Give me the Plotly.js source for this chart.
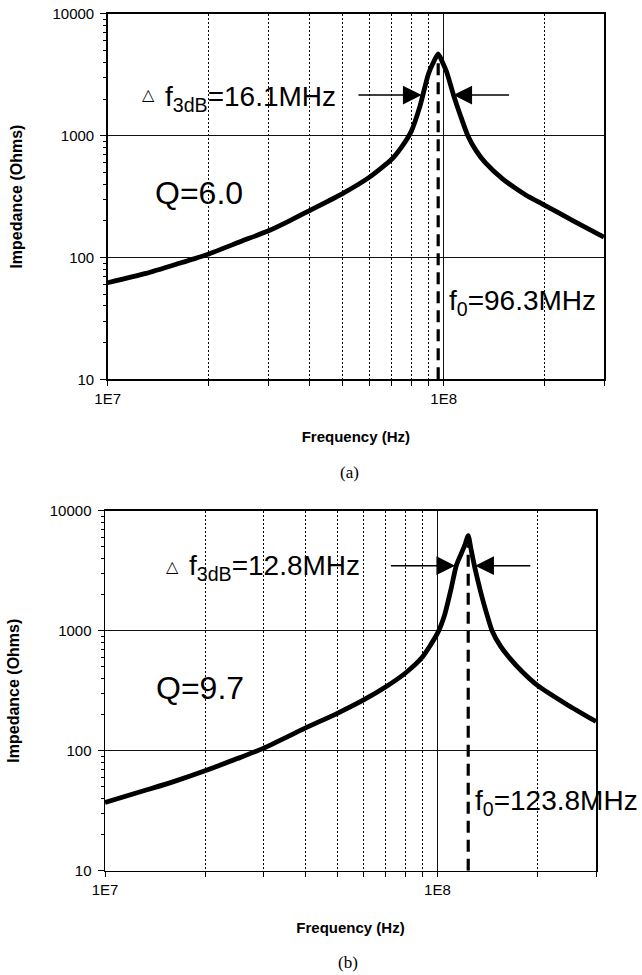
<!DOCTYPE html>
<html><head><meta charset="utf-8">
<script src="https://cdn.plot.ly/plotly-3.0.1.min.js"></script>
<style>html,body{margin:0;padding:0;background:#fff}</style>
</head><body>
<div id="chart" style="width:642px;height:975px"></div>
<script>
// ---- Data ----
const freqA = [1.0e7, 1.3e7, 1.6e7, 2.0e7, 2.5e7, 3.0e7, 3.5e7, 4.0e7, 5.0e7, 6.0e7,
               7.0e7, 7.5e7, 8.0e7, 8.5e7, 9.0e7, 9.3e7, 9.63e7, 9.9e7, 1.02e8, 1.07e8,
               1.12e8, 1.18e8, 1.25e8, 1.33e8, 1.5e8, 1.75e8, 2.0e8, 2.43e8, 3.0e8];
const zA = [62, 74, 88, 107, 136, 165, 202, 244, 335, 455,
            640, 810, 1080, 1750, 3200, 3950, 4700, 4050, 3350, 2150,
            1480, 1000, 750, 600, 440, 328, 268, 200, 147];

const freqB = [1.0e7, 1.33e7, 1.6e7, 2.0e7, 2.5e7, 3.0e7, 4.0e7, 5.0e7, 6.0e7, 7.0e7,
               8.0e7, 9.0e7, 1.0e8, 1.05e8, 1.1e8, 1.14e8, 1.18e8, 1.21e8, 1.238e8, 1.26e8,
               1.28e8, 1.30e8, 1.35e8, 1.40e8, 1.46e8, 1.55e8, 1.66e8, 1.8e8, 2.0e8, 2.45e8, 3.0e8];
const zB = [37, 47, 55, 68, 86, 105, 154, 205, 265, 341,
            442, 600, 950, 1340, 2250, 3500, 4400, 5200, 6200, 4900,
            3950, 3220, 2090, 1450, 1000, 740, 580, 455, 350, 243, 175];

const f0A = 96.3e6, f0B = 123.8e6;          // resonance markers
const dashTopA = 3950, dashTopB = 5200;     // upper end of dashed f0 lines
const zMin = 10;
const bwLevelA = 2158, bwLevelB = 3480;     // height of the 3 dB arrows
const bwA = [5.52e7, 8.6e7, 1.068e8, 1.58e8];   // left tail, left tip, right tip, right tail
const bwB = [7.17e7, 1.131e8, 1.299e8, 1.923e8];

const xTickVals = [1e7, 1e8];
const xTickText = ['1E7', '1E8'];
const xMinorVals = [2e7, 3e7, 4e7, 5e7, 6e7, 7e7, 8e7, 9e7, 2e8, 3e8];
const yTickVals = [10, 100, 1000, 10000];
const yTickText = ['10', '100', '1000', '10000'];
const yMinorVals = [20,30,40,50,60,70,80,90,200,300,400,500,600,700,800,900,
                    2000,3000,4000,5000,6000,7000,8000,9000];

const textA = {bw: 'f<sub>3dB</sub>=16.1MHz', q: 'Q=6.0', f0: 'f<sub>0</sub>=96.3MHz', cap: '(a)'};
const textB = {bw: 'f<sub>3dB</sub>=12.8MHz', q: 'Q=9.7', f0: 'f<sub>0</sub>=123.8MHz', cap: '(b)'};
const xTitle = 'Frequency (Hz)';
const yTitle = 'Impedance (Ohms)';

// ---- Layout helpers ----
const W = 642, H = 975;
const px = v => v / W;
const py = v => 1 - v / H;
const SANS = 'Liberation Sans, Arial, Helvetica, sans-serif';
const SERIF = 'Liberation Serif, Times New Roman, serif';
const L = Math.log10;
const boldFont = {family: SANS, size: 15, color: '#000', weight: 'bold'};
const yTitleFont = {family: SANS, size: 16, color: '#000', weight: 'bold'};

function xAxis(domain, anchor) {
  return {
    type: 'log', domain: domain, anchor: anchor, range: [L(1e7), L(3e8)],
    tickmode: 'array', tickvals: xTickVals, ticktext: xTickText,
    showline: true, mirror: true, linecolor: '#000', linewidth: 1.5,
    ticks: 'outside', ticklen: 5, tickwidth: 1, tickcolor: '#000',
    showgrid: true, gridcolor: '#111', gridwidth: 1, zeroline: false,
    tickfont: {family: SANS, size: 15, color: '#000'},
    title: {text: xTitle, font: boldFont, standoff: 25},
    automargin: false,
    minor: {tickvals: xMinorVals, ticks: 'outside', ticklen: 5, tickwidth: 1, tickcolor: '#000',
            showgrid: true, gridcolor: '#000', gridwidth: 1, griddash: '2px,2px'}
  };
}
function yAxis(domain, anchor) {
  return {
    type: 'log', domain: domain, anchor: anchor, range: [1, 4],
    tickmode: 'array', tickvals: yTickVals, ticktext: yTickText,
    showline: true, mirror: true, linecolor: '#000', linewidth: 1.5,
    ticks: 'outside', ticklen: 6, tickwidth: 1, tickcolor: '#000',
    showgrid: true, gridcolor: '#111', gridwidth: 1, zeroline: false,
    ticklabelstandoff: 3,
    tickfont: {family: SANS, size: 15, color: '#000'},
    title: {text: yTitle, font: yTitleFont, standoff: 26},
    automargin: false,
    minor: {tickvals: yMinorVals, ticks: 'outside', ticklen: 3, tickwidth: 1, tickcolor: '#000', showgrid: false}
  };
}

const curveLine = {color: '#000', width: 4.8, shape: 'spline', smoothing: 0.6};
const dashLine = {color: '#000', width: 3.2, dash: '12px,7px'};

const traces = [
  {x: freqA, y: zA, xaxis: 'x', yaxis: 'y', mode: 'lines', line: curveLine, hoverinfo: 'skip'},
  {x: [f0A, f0A], y: [zMin, dashTopA], xaxis: 'x', yaxis: 'y', mode: 'lines', line: dashLine, hoverinfo: 'skip'},
  {x: freqB, y: zB, xaxis: 'x2', yaxis: 'y2', mode: 'lines', line: curveLine, hoverinfo: 'skip'},
  {x: [f0B, f0B], y: [zMin, dashTopB], xaxis: 'x2', yaxis: 'y2', mode: 'lines', line: dashLine, hoverinfo: 'skip'}
];

function arrow(xr, yr, tip, tail, level) {
  return {xref: xr, yref: yr, axref: xr, ayref: yr, x: L(tip), y: L(level), ax: L(tail), ay: L(level),
          text: '', showarrow: true, arrowhead: 2, arrowsize: 2.5, arrowwidth: 1.5, arrowcolor: '#000',
          standoff: 0, startstandoff: 0};
}
function txt(text, x, y, size, opts) {
  return Object.assign({xref: 'paper', yref: 'paper', x: px(x), y: py(y), text: text, showarrow: false,
          xanchor: 'left', yanchor: 'middle', font: {family: SANS, size: size, color: '#000'}}, opts || {});
}
const triFont = {family: 'DejaVu Sans', size: 16, color: '#000'};
const capFont = {family: SERIF, size: 17, color: '#000'};

const annotations = [
  // chart (a)
  arrow('x', 'y', bwA[1], bwA[0], bwLevelA),
  arrow('x', 'y', bwA[2], bwA[3], bwLevelA),
  txt('\u25B3', 140, 95, 16, {font: triFont}),
  txt(textA.bw, 163, 98, 28),
  txt(textA.q, 153, 193, 32),
  txt(textA.f0, 447, 302, 28),
  txt(textA.cap, 350, 473, 17, {xanchor: 'center', font: capFont}),
  // chart (b)
  arrow('x2', 'y2', bwB[1], bwB[0], bwLevelB),
  arrow('x2', 'y2', bwB[2], bwB[3], bwLevelB),
  txt('\u25B3', 164, 566, 16, {font: triFont}),
  txt(textB.bw, 187, 567, 28),
  txt(textB.q, 154, 688, 32),
  txt(textB.f0, 473, 802, 28),
  txt(textB.cap, 348, 962, 17, {xanchor: 'center', font: capFont})
];

const layout = {
  width: W, height: H, margin: {l: 0, r: 0, t: 0, b: 0},
  paper_bgcolor: '#fff', plot_bgcolor: '#fff', showlegend: false,
  font: {family: SANS, color: '#000'},
  xaxis: xAxis([px(107.7), px(604)], 'y'),
  yaxis: yAxis([py(379.3), py(13.9)], 'x'),
  xaxis2: xAxis([px(105), px(596)], 'y2'),
  yaxis2: yAxis([py(870.7), py(510.7)], 'x2'),
  annotations: annotations
};

Plotly.newPlot('chart', traces, layout, {staticPlot: true, displayModeBar: false});
</script>
</body></html>
